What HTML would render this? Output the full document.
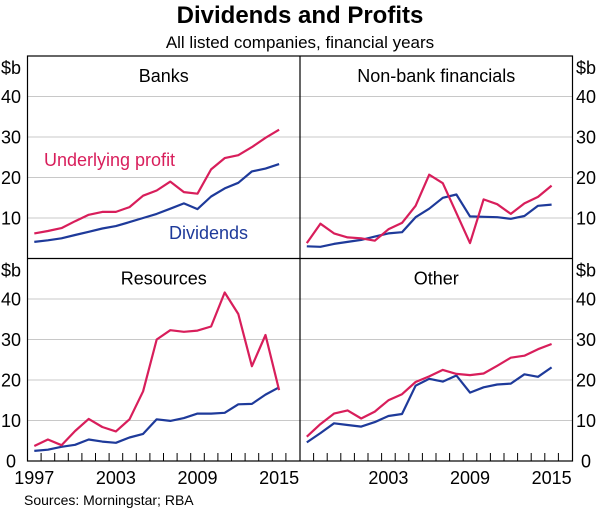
<!DOCTYPE html>
<html><head><meta charset="utf-8"><style>
body{margin:0;background:#fff;width:600px;height:523px;overflow:hidden}
svg{display:block;font-family:"Liberation Sans",Arial,sans-serif}
</style></head><body>
<svg id="c" width="600" height="523">
<text x="300" y="23" text-anchor="middle" font-size="24" font-weight="bold">Dividends and Profits</text>
<text x="300" y="48" text-anchor="middle" font-size="17">All listed companies, financial years</text>
<text x="24" y="505" font-size="14">Sources:  Morningstar; RBA</text>
</svg>
<script>
const years=[1997,1998,1999,2000,2001,2002,2003,2004,2005,2006,2007,2008,2009,2010,2011,2012,2013,2014,2015];
const yTicks=[10,20,30,40];
const xTickLabels=[1997,2003,2009,2015];
const panelNames=["Banks","Non-bank financials","Resources","Other"];
const banksProfit=[6.2,6.8,7.5,9.2,10.8,11.5,11.5,12.7,15.5,16.8,19.0,16.4,16.0,22.0,24.8,25.5,27.5,29.8,31.8];
const banksDiv=[4.1,4.5,5.0,5.8,6.6,7.4,8.0,9.0,10.0,11.0,12.3,13.6,12.2,15.3,17.3,18.7,21.5,22.2,23.3];
const nbfProfit=[3.8,8.6,6.2,5.2,5.0,4.4,7.2,8.8,13.0,20.7,18.6,11.2,3.8,14.6,13.4,11.0,13.6,15.2,18.0];
const nbfDiv=[3.0,2.9,3.6,4.1,4.6,5.4,6.2,6.5,10.2,12.3,15.0,15.8,10.4,10.3,10.2,9.8,10.5,13.0,13.3];
const resProfit=[3.7,5.3,3.9,7.4,10.4,8.4,7.3,10.3,17.2,30.0,32.3,31.9,32.2,33.2,41.6,36.3,23.4,31.1,17.5];
const resDiv=[2.5,2.8,3.5,4.0,5.3,4.8,4.5,5.8,6.7,10.3,9.9,10.6,11.7,11.7,11.9,14.0,14.1,16.4,18.2];
const othProfit=[6.0,9.1,11.7,12.5,10.5,12.2,15.0,16.5,19.5,20.9,22.5,21.5,21.2,21.6,23.5,25.5,26.0,27.6,28.9];
const othDiv=[4.6,6.9,9.3,8.9,8.5,9.6,11.1,11.6,18.6,20.3,19.6,21.1,16.9,18.2,18.9,19.1,21.4,20.8,23.1];
const profits=[banksProfit,nbfProfit,resProfit,othProfit];
const divs=[banksDiv,nbfDiv,resDiv,othDiv];
const NS="http://www.w3.org/2000/svg",svg=document.getElementById('c');
function el(t,a,txt){const e=document.createElementNS(NS,t);for(const k in a)e.setAttribute(k,a[k]);if(txt!==undefined)e.textContent=txt;svg.appendChild(e);return e;}
const L=27.5,M=300,R=572.5,T=56,MID=258.5,B=461,W=272.5,H=202.5;
const RED="#d81e5b",BLUE="#1e3a9a";
function px(i,y){return i+6.8+(y-1997)*13.6;}
function py(top,v){return top+H-v*H/50;}
const lefts=[L,M,L,M],tops=[T,T,MID,MID];
for(let p=0;p<4;p++){
  const x0=lefts[p],t0=tops[p];
  yTicks.forEach(v=>{const g=el('line',{x1:x0,x2:x0+W-0.5,y1:py(t0,v),y2:py(t0,v),stroke:"#c8c8c8","stroke-width":1});
    });
  const tt=el('text',{x:x0+W/2,y:t0+26,"text-anchor":"middle","font-size":18},panelNames[p]);
  
  if(t0===MID){for(let y=1997;y<=2015;y++){const xx=px(x0,y)+6.8;const tk=el('line',{x1:xx,x2:xx,y1:B,y2:B-8,stroke:"#000","stroke-width":1});
    }}
  [[divs[p],BLUE,'dividends-line'],[profits[p],RED,'profit-line']].forEach(([arr,c,n])=>{
    const d=arr.map((v,i)=>(i?'L':'M')+px(x0,years[i]).toFixed(1)+' '+py(t0,v).toFixed(1)).join(' ');
    const pa=el('path',{d:d,fill:"none",stroke:c,"stroke-width":2.2,"stroke-linejoin":"round"});
    });
}
const fr=el('rect',{x:L,y:T,width:R-L,height:B-T,fill:"none",stroke:"#000","stroke-width":1.2});

const v1=el('line',{x1:M,x2:M,y1:T,y2:B,stroke:"#000","stroke-width":1.2});

const h1=el('line',{x1:L,x2:R,y1:MID,y2:MID,stroke:"#000","stroke-width":1.2});

[T,MID].forEach(t0=>{
  [1,576].forEach(x=>{
    const s=el('text',{x:x,y:t0+18,"font-size":18},"$b");
    yTicks.forEach(v=>{const l=el('text',{x:x,y:py(t0,v)+6.5,"font-size":18},String(v));});
  });
});
[[6],[581]].forEach(([x])=>{const z=el('text',{x:x,y:B+6.5,"font-size":18},"0");});
[L,M].forEach((x0,k)=>{xTickLabels.forEach(y=>{if(k===1&&y===1997)return;
  const l=el('text',{x:px(x0,y),y:484,"text-anchor":"middle","font-size":18},String(y));});});
const a1=el('text',{x:44,y:166,"font-size":18,fill:RED},"Underlying profit");
const a2=el('text',{x:169,y:239,"font-size":18,fill:BLUE},"Dividends");
</script>
</body></html>
